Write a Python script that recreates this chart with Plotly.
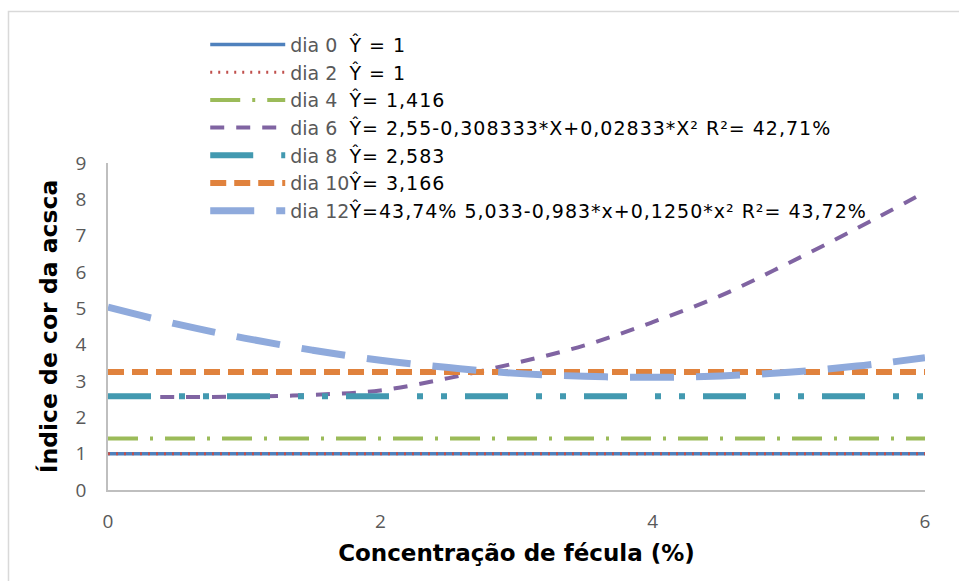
import plotly.graph_objects as go

# x values (Concentração de fécula, %)
x_flat = [0, 6]
x_curve = [0, 0.5, 1, 1.5, 2, 2.5, 3, 3.5, 4, 4.5, 5, 5.5, 6]

# series values
dia0 = [1, 1]
dia2 = [1, 1]
dia4 = [1.416, 1.416]
dia6 = [2.58, 2.56, 2.57, 2.62, 2.74, 3.08, 3.50, 3.98, 4.62, 5.35, 6.25, 7.20, 8.20]
dia8 = [2.583, 2.583]
dia10 = [3.25, 3.25]
dia12 = [5.03, 4.57, 4.18, 3.85, 3.57, 3.37, 3.21, 3.13, 3.10, 3.14, 3.24, 3.41, 3.64]

labels = ["dia 0", "dia 2", "dia 4", "dia 6", "dia 8", "dia 10", "dia 12"]
equations = [
    "Ŷ = 1",
    "Ŷ = 1",
    "Ŷ= 1,416",
    "Ŷ= 2,55-0,308333*X+0,02833*X² R²= 42,71%",
    "Ŷ= 2,583",
    "Ŷ= 3,166",
    "Ŷ=43,74% 5,033-0,983*x+0,1250*x² R²= 43,72%",
]
pads = ["\u00a0\u00a0", "\u00a0\u00a0", "\u00a0\u00a0", "\u00a0\u00a0", "\u00a0\u00a0", "", ""]

x_ticks = [0, 2, 4, 6]
y_ticks = [0, 1, 2, 3, 4, 5, 6, 7, 8, 9]

series = [
    (x_flat, dia0, "#4F81BD", 3.5, "solid", "linear"),
    (x_flat, dia2, "#C0504D", 3, "2px,6px", "linear"),
    (x_flat, dia4, "#9BBB59", 4, "30px,12px,3px,12px", "linear"),
    (x_curve, dia6, "#8064A2", 4, "14px,12px", "spline"),
    (x_flat, dia8, "#4299B0", 6, "43px,28px,6px,18px,6px,18px", "linear"),
    (x_flat, dia10, "#E0823D", 6, "16px,8px", "linear"),
    (x_curve, dia12, "#8FAADC", 7, "44px,22px", "spline"),
]

fig = go.Figure()
for i, (xs, ys, col, w, dash, shape) in enumerate(series):
    name = (labels[i] + pads[i] +
            "<span style='color:#000000;letter-spacing:1px'>" + equations[i] + "</span>")
    fig.add_trace(go.Scatter(
        x=xs, y=ys, mode="lines", name=name,
        line=dict(color=col, width=w, dash=dash, shape=shape),
    ))

fig.update_layout(
    width=959, height=581,
    margin=dict(l=108, r=34, t=163, b=91),
    paper_bgcolor="white", plot_bgcolor="white",
    font=dict(family="DejaVu Sans, Liberation Sans, sans-serif", color="#595959"),
    showlegend=True,
    legend=dict(
        x=0.119, y=1.42, xanchor="left", yanchor="top",
        font=dict(size=19, color="#595959", family="DejaVu Sans, Liberation Sans, sans-serif"),
        bgcolor="rgba(0,0,0,0)", itemwidth=75,
        traceorder="normal",
    ),
    xaxis=dict(
        range=[0, 6], tickvals=x_ticks, ticktext=[str(v) for v in x_ticks],
        showgrid=False, zeroline=False, showline=True, linecolor="#BFBFBF", linewidth=1.5,
        ticks="", ticklabelstandoff=13, automargin=False,
        tickfont=dict(size=19, color="#595959", family="Open Sans, Liberation Sans, sans-serif"),
        title=dict(text="<b>Concentração de fécula (%)</b>", standoff=12,
                   font=dict(size=23, color="#000000", family="DejaVu Sans, Liberation Sans, sans-serif")),
    ),
    yaxis=dict(
        range=[0, 9], tickvals=y_ticks,
        showgrid=False, zeroline=False, showline=True, linecolor="#BFBFBF", linewidth=1.5,
        ticks="", ticklabelstandoff=16, automargin=False,
        tickfont=dict(size=19, color="#595959", family="Open Sans, Liberation Sans, sans-serif"),
        title=dict(text="<b>Índice de cor da acsca</b>", standoff=11,
                   font=dict(size=23.5, color="#000000", family="DejaVu Sans, Liberation Sans, sans-serif")),
    ),
    shapes=[dict(type="rect", xref="paper", yref="paper",
                 x0=-0.1218, x1=1.07, y0=-0.34, y1=1.4633,
                 line=dict(color="#D9D9D9", width=1.5), fillcolor="rgba(0,0,0,0)", layer="below")],
)

fig.write_html("out.html")
